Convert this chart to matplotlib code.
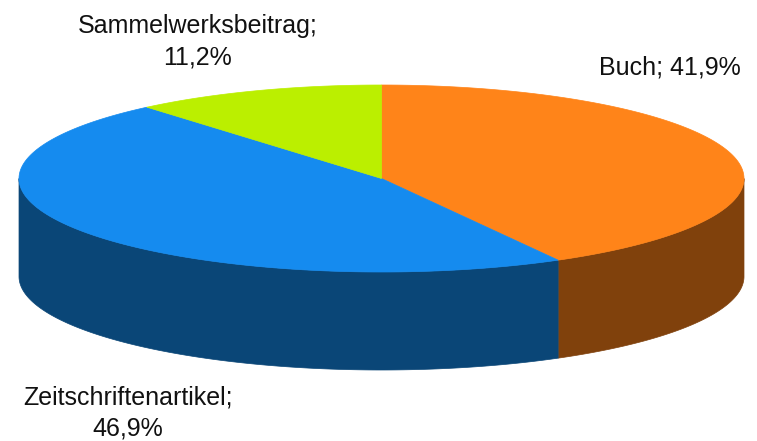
import numpy as np
import matplotlib
matplotlib.use("Agg")
import matplotlib.pyplot as plt
from matplotlib.patches import Polygon

categories = ["Buch", "Zeitschriftenartikel", "Sammelwerksbeitrag"]
values = [41.9, 46.9, 11.2]
top_colors = ["#FF8419", "#158BEF", "#BBEF00"]
side_colors = ["#80410C", "#0A4677", "#5E7800"]
labels = ["Buch; 41,9%", "Zeitschriftenartikel;\n46,9%", "Sammelwerksbeitrag;\n11,2%"]
label_pos = [(670, 68), (127.5, 413), (197.5, 42)]

plt.rcParams['font.family'] = ['Liberation Sans', 'DejaVu Sans']
W, H = 757, 441
fig = plt.figure(figsize=(W / 100, H / 100), dpi=100, facecolor="white")
ax = fig.add_axes([0, 0, 1, 1])
ax.set_xlim(0, W)
ax.set_ylim(H, 0)
ax.axis("off")

cx, cy, rx, ry, depth = 381.5, 178.5, 362.5, 93.5, 98


def pt(theta):
    # theta measured clockwise from the top of the pie
    return cx + rx * np.sin(theta), cy - ry * np.cos(theta)


edges = 2 * np.pi * np.cumsum([0] + values) / sum(values)

# side walls (only the front half, pi/2 to 3pi/2, is visible)
for a, b, c in zip(edges[:-1], edges[1:], side_colors):
    lo, hi = max(a, np.pi / 2), min(b, 3 * np.pi / 2)
    if lo >= hi:
        continue
    t = np.linspace(lo, hi, 200)
    x, y = pt(t)
    verts = np.r_[np.c_[x, y], np.c_[x[::-1], y[::-1] + depth]]
    ax.add_patch(Polygon(verts, closed=True, fc=c, ec=c, lw=0.5))

# top faces
for a, b, c in zip(edges[:-1], edges[1:], top_colors):
    t = np.linspace(a, b, 300)
    x, y = pt(t)
    verts = np.r_[[[cx, cy]], np.c_[x, y]]
    ax.add_patch(Polygon(verts, closed=True, fc=c, ec=c, lw=0.5))

for s, (x, y) in zip(labels, label_pos):
    ax.text(x, y, s, ha="center", va="center", fontsize=18, color="#111111",
            linespacing=1.38)

fig.savefig("out.png", dpi=100)
